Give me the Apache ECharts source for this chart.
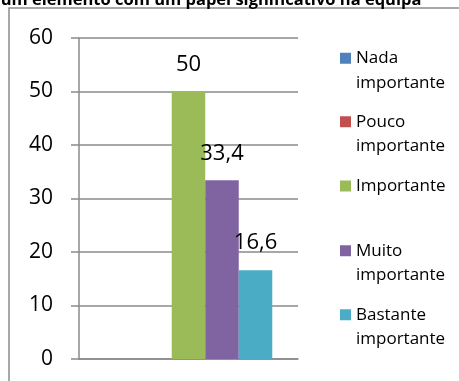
<!DOCTYPE html>
<html>
<head>
<meta charset="utf-8">
<script src="https://cdn.jsdelivr.net/npm/echarts@6/dist/echarts.min.js"></script>
<style>
  html, body { margin: 0; padding: 0; background: #fff; }
  #chart { width: 459px; height: 381px; }
</style>
</head>
<body>
<div id="chart"></div>
<script>
// Response categories (one series each) and their percentages
const seriesNames = ['Nada importante', 'Pouco importante', 'Importante', 'Muito importante', 'Bastante importante'];
const seriesValues = [0, 0, 50, 33.4, 16.6];
const seriesColors = ['#4F81BD', '#C0504D', '#9BBB59', '#8064A2', '#4BACC6'];
const legendLines = [['Nada', 'importante'], ['Pouco', 'importante'], ['Importante'], ['Muito', 'importante'], ['Bastante', 'importante']];
const categories = [''];
const yTicks = { min: 0, max: 60, interval: 10 };
const titleText = 'um elemento com um papel significativo na equipa';

const FONT = '"Open Sans", sans-serif';
const GRID_COLOR = '#8a8a8a';
const LINE_H = 24.5;
const legendTops = [21.5, 85, 173.75, 214, 278];

const chart = echarts.init(document.getElementById('chart'), null, { renderer: 'canvas' });

const series = seriesNames.map((name, i) => ({
  name: name,
  type: 'bar',
  barGap: 0,
  barCategoryGap: '23.5%',
  itemStyle: { color: seriesColors[i] },
  label: {
    show: true,
    position: 'top',
    distance: 16,
    fontFamily: FONT,
    fontSize: 22,
    color: '#000',
    formatter: p => (p.value ? String(p.value).replace('.', ',') : '')
  },
  data: [seriesValues[i]]
}));

// Two-line entries get a blank leading line so the swatch sits beside the first line
const legends = seriesNames.map((name, i) => {
  const lines = legendLines[i];
  return {
    data: [name],
    orient: 'vertical',
    left: 340,
    top: legendTops[i],
    padding: 0,
    icon: 'rect',
    itemWidth: 11,
    itemHeight: 11,
    selectedMode: false,
    formatter: () => lines.length > 1
      ? '{t| }\n' + lines.map(l => '{t|' + l + '}').join('\n')
      : '{t|' + lines[0] + '}',
    textStyle: {
      fontFamily: FONT,
      fontSize: 17,
      color: '#000',
      lineHeight: LINE_H,
      rich: {
        t: { fontFamily: FONT, fontSize: 17, color: '#000', lineHeight: LINE_H }
      }
    }
  };
});

chart.setOption({
  animation: false,
  backgroundColor: '#fff',
  textStyle: { fontFamily: FONT },
  graphic: [
    {
      type: 'rect',
      shape: { x: 9, y: 8, width: 470, height: 400 },
      style: { fill: 'none', stroke: '#8c8c8c', lineWidth: 1.5 },
      silent: true
    },
    {
      type: 'text',
      x: 211,
      y: 0,
      style: {
        text: titleText,
        fontFamily: FONT,
        fontWeight: 'bold',
        fontSize: 16.5,
        fill: '#000',
        align: 'center',
        verticalAlign: 'middle'
      },
      silent: true
    }
  ],
  legend: legends,
  grid: { left: 79, top: 38, right: 161, bottom: 22 },
  xAxis: {
    type: 'category',
    data: categories,
    axisLine: { show: true, lineStyle: { color: GRID_COLOR, width: 1.5 } },
    axisTick: { show: false },
    axisLabel: { show: false }
  },
  yAxis: {
    type: 'value',
    min: yTicks.min,
    max: yTicks.max,
    interval: yTicks.interval,
    axisLine: { show: true, lineStyle: { color: GRID_COLOR, width: 1.5 } },
    axisTick: { show: true, length: 8, lineStyle: { color: GRID_COLOR, width: 1.5 } },
    splitLine: { show: true, lineStyle: { color: GRID_COLOR, width: 1.5 } },
    axisLabel: { fontFamily: FONT, fontSize: 21, color: '#000', margin: 26 }
  },
  series: series
});
</script>
</body>
</html>
